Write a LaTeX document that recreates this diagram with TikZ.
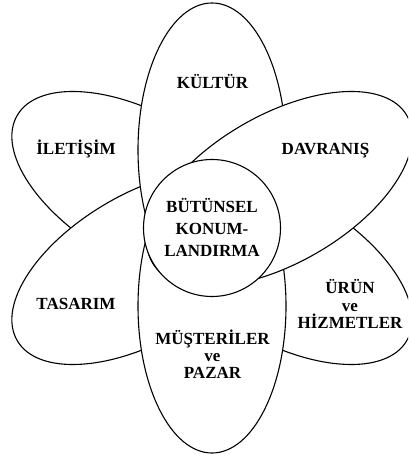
\documentclass[tikz,border=0pt]{standalone}
\usepackage{fontspec}
\setmainfont{Liberation Serif}
\begin{document}
\begin{tikzpicture}[x=1pt,y=1pt,
  petal/.style={draw=black, fill=white, line width=1.1pt},
  lbl/.style={font=\bfseries\fontsize{17}{17.5}\selectfont, align=center, inner sep=0pt, anchor=base}]
\useasboundingbox (0,0) rectangle (408,454);
\clip (0,0) rectangle (408,454);
\coordinate (C) at (212,226);
% petals, from lowest layer to highest
\foreach \a in {150,210,-30,90,-90,30} {
  \draw[petal, shift={(C)}, rotate=\a] (78,0) ellipse (147 and 74);
}
\node[draw=black, fill=white, line width=1.1pt, circle, minimum size=137pt, inner sep=0pt] (core) at (C) {};
\node[lbl] (kultur) at (212.5,365.7) {KÜLTÜR};
\node[lbl] (iletisim) at (76,299) {İLETİŞİM};
\node[lbl] (davranis) at (325.5,299) {DAVRANIŞ};
\node[lbl] (tasarim) at (76,144) {TASARIM};
\node[lbl, font=\bfseries\fontsize{17}{22}\selectfont] (butunsel) at (212,197) {BÜTÜNSEL\\KONUM-\\LANDIRMA};
\node[lbl] (urun) at (350,125) {ÜRÜN\\ve\\HİZMETLER};
\node[lbl, font=\bfseries\fontsize{17}{17}\selectfont] (musteri) at (212.5,75) {MÜŞTERİLER\\ve\\PAZAR};
\end{tikzpicture}
\end{document}
